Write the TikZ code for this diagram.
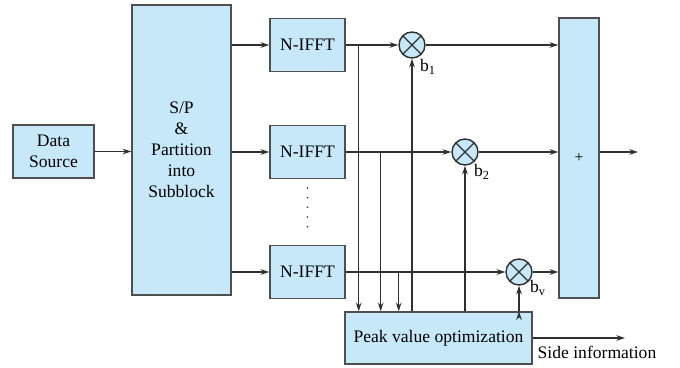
\documentclass[tikz,border=0pt]{standalone}
\usepackage{fontspec}
\setmainfont{LiberationSerif}[Extension=.ttf, UprightFont=*-Regular, BoldFont=*-Bold, ItalicFont=*-Italic, BoldItalicFont=*-BoldItalic]
\usetikzlibrary{arrows.meta,positioning,calc}
\definecolor{boxblue}{HTML}{C6E8F9}
\definecolor{linegray}{HTML}{303030}

\begin{document}
\begin{tikzpicture}[x=0.02cm, y=-0.02cm, >={Stealth[length=5pt,width=3.2pt]},
    block/.style={draw=linegray!85, thick, fill=boxblue, align=center, inner sep=2pt},
    mult/.style={circle, draw=linegray, thick, fill=boxblue, minimum size=0.52cm, inner sep=0pt,
        path picture={\draw[linegray, thick] (path picture bounding box.north west) -- (path picture bounding box.south east)
            (path picture bounding box.north east) -- (path picture bounding box.south west);}}]

    \useasboundingbox (0,0) rectangle (680,368);

    % Blocks
    \node[block, minimum width=1.62cm, minimum height=1.06cm] (src) at (53.5,151.5) {Data\\Source};
    \node[block, minimum width=1.98cm, minimum height=5.8cm] (sp) at (181.5,150) {S/P\\\&\\Partition\\into\\Subblock};
    \node[block, minimum width=1.5cm, minimum height=1.06cm] (ifft1) at (307.5,45) {N-IFFT};
    \node[block, minimum width=1.5cm, minimum height=1.06cm] (ifft2) at (307.5,152) {N-IFFT};
    \node[block, minimum width=1.5cm, minimum height=1.06cm] (ifft3) at (307.5,272) {N-IFFT};
    \node[mult] (m1) at (412,45) {};
    \node[mult] (m2) at (465,152) {};
    \node[mult] (m3) at (519,272) {};
    \node[block, minimum width=0.8cm, minimum height=5.6cm, font=\small] (sum) at (579,158) {+};
    \node[block, minimum width=3.74cm, minimum height=1.04cm] (peak) at (438.5,338) {Peak value optimization};

    % Labels
    \node (b1) at ($(m1)+(16,22)$) {b\textsubscript{1}};
    \node (b2) at ($(m2)+(17,20)$) {b\textsubscript{2}};
    \node (bv) at ($(m3)+(19,16)$) {b\textsubscript{v}};
    \node (sidelbl) at (597,352) {Side information};
    \coordinate (out) at (638,152);
    \coordinate (side) at (625,338);

    % Connections
    \path[->, draw=linegray, semithick]
    (src.east) edge (src.east -| sp.west)
    (sp.east |- ifft1) edge (ifft1.west)
    (sp.east |- ifft2) edge (ifft2.west)
    (sp.east |- ifft3) edge (ifft3.west)
    (ifft1.east) edge (m1.west)
    (ifft2.east) edge (m2.west)
    (ifft3.east) edge (m3.west)
    (m1.east) edge (m1 -| sum.west)
    (m2.east) edge (m2 -| sum.west)
    (m3.east) edge (m3 -| sum.west)
    (sum.east |- out) edge (out)
    (peak.east) edge (side)
    (m1 |- peak.north) edge (m1.south)
    (m2 |- peak.north) edge (m2.south)
    (m3 |- peak.north) edge (m3.south);

    % Taps to the optimizer
    \draw[->, linegray, semithick] (ifft1.east) ++(13,0) coordinate (t1) -- (t1 |- peak.north);
    \draw[->, linegray, semithick] (ifft2.east) ++(35,0) coordinate (t2) -- (t2 |- peak.north);
    \draw[->, linegray, semithick] (ifft3.east) ++(53,0) coordinate (t3) -- (t3 |- peak.north);

    % Dots between the branches
    \draw[linegray, line width=1pt, line cap=round, dash pattern=on 0pt off 5.5pt, shorten <=5pt, shorten >=5pt] (ifft2.south) -- (ifft3.north);

\end{tikzpicture}
\end{document}
